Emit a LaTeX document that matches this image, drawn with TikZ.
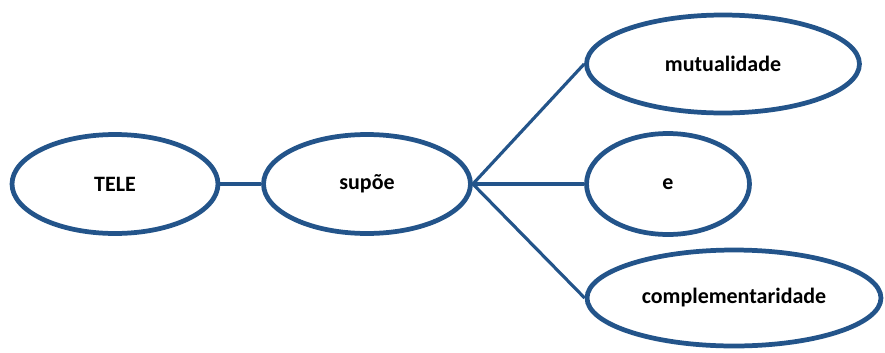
\documentclass[tikz,border=0pt]{standalone}
\usepackage{fontspec}
\setmainfont{Carlito}
\usetikzlibrary{shapes.geometric}
\definecolor{bubble}{HTML}{23548A}

\begin{document}
\begin{tikzpicture}
[x=0.02cm,y=-0.02cm,
	blob/.style={ellipse,draw=bubble,fill=white,line width=2.7pt,inner sep=0pt,
		font=\bfseries\fontsize{12.5}{14}\selectfont},
	link/.style={draw=bubble,line width=1.8pt}]
\useasboundingbox (0,0) rectangle (885,352);

\node[blob,minimum width=4.12cm,minimum height=1.98cm] (tele) at (115,184) {TELE};
\node[blob,minimum width=4.14cm,minimum height=1.98cm] (supoe) at (367,184) {supõe};
\node[blob,minimum width=5.46cm,minimum height=1.96cm] (mutual) at (723,64) {mutualidade};
\node[blob,minimum width=3.26cm,minimum height=2.02cm] (e) at (668,184) {e};
\node[blob,minimum width=5.88cm,minimum height=1.92cm] (compl) at (734,298) {complementaridade};

\draw[link] (tele) -- (supoe);
\draw[link] (supoe.east) -- (mutual.west);
\draw[link] (supoe.east) -- (e.west);
\draw[link] (supoe.east) -- (compl.west);
\end{tikzpicture}
\end{document}
